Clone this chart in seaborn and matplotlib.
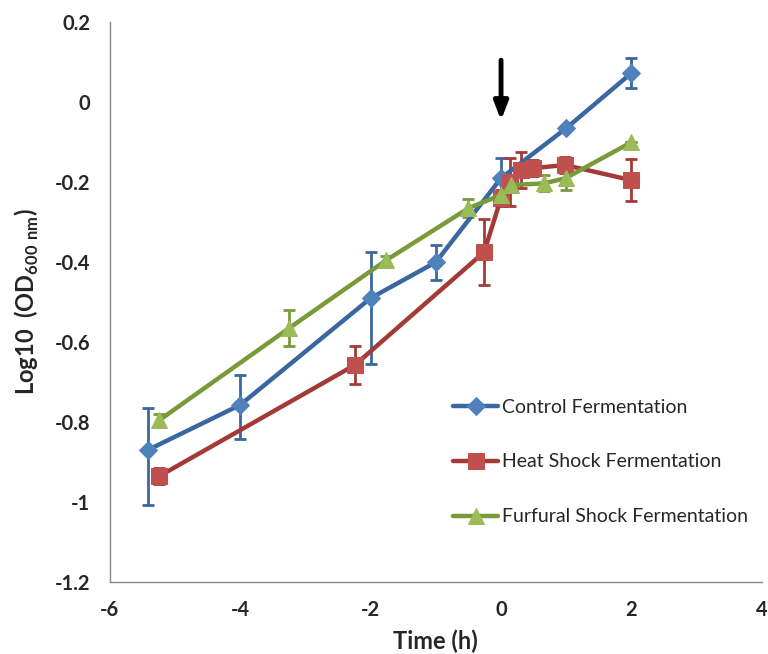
"""Growth curves of the three fermentations, log10 OD600 over time."""
import matplotlib

matplotlib.use("Agg")
import matplotlib.pyplot as plt
import pandas as pd
import seaborn as sns

# Control fermentation (error bars read as lower / upper)
ctrl_t = [-5.42, -4.0, -2.0, -1.0, 0.0, 1.0, 2.0]
ctrl_y = [-0.87, -0.757, -0.49, -0.40, -0.19, -0.065, 0.073]
ctrl_lo = [0.137, 0.085, 0.165, 0.045, 0.05, 0.0, 0.037]
ctrl_hi = [0.105, 0.075, 0.115, 0.043, 0.05, 0.0, 0.037]

# Heat shock fermentation
heat_t = [-5.24, -2.24, -0.26, 0.0, 0.14, 0.31, 0.49, 0.98, 2.0]
heat_y = [-0.935, -0.657, -0.375, -0.24, -0.20, -0.17, -0.165, -0.157, -0.195]
heat_err = [0.02, 0.048, 0.082, 0.02, 0.06, 0.045, 0.02, 0.02, 0.053]

# Furfural shock fermentation
furf_t = [-5.24, -3.25, -1.76, -0.5, 0.0, 0.16, 0.66, 0.99, 2.0]
furf_y = [-0.795, -0.565, -0.395, -0.265, -0.232, -0.207, -0.203, -0.19, -0.10]
furf_err = [0.015, 0.045, 0.01, 0.022, 0.01, 0.01, 0.02, 0.03, 0.0]

SERIES = [
    ("Control Fermentation", ctrl_t, ctrl_y, [ctrl_lo, ctrl_hi], "#3A67A0", "#4F81BD", "D", 9),
    ("Heat Shock Fermentation", heat_t, heat_y, heat_err, "#A33A36", "#C0504D", "s", 11),
    ("Furfural Shock Fermentation", furf_t, furf_y, furf_err, "#7A9A3A", "#9BBB59", "^", 11),
]

sns.set_theme(style="white")
plt.rcParams["font.family"] = ["Lato", "DejaVu Sans"]
plt.rcParams["mathtext.fontset"] = "custom"
plt.rcParams["mathtext.bf"] = "Lato:bold"
plt.rcParams["mathtext.rm"] = "Lato:bold"

fig = plt.figure(figsize=(7.68, 6.54), dpi=100)
ax = fig.add_axes([0.143, 0.110, 0.849, 0.856])

for label, t, y, err, line_c, mark_c, mk, ms in SERIES:
    df = pd.DataFrame({"t": t, "y": y})
    ax.errorbar(t, y, yerr=err, fmt="none", ecolor=line_c, elinewidth=2,
                capsize=4.5, capthick=2, zorder=2)
    sns.lineplot(data=df, x="t", y="y", ax=ax, color=line_c, lw=3.2,
                 marker=mk, markersize=ms, markerfacecolor=mark_c,
                 markeredgecolor=mark_c, label=label, zorder=3, sort=False)

# shock applied at t = 0
ax.annotate("", xy=(0, -0.052), xytext=(0, 0.112),
            arrowprops=dict(arrowstyle="-|>,head_width=0.35,head_length=0.9",
                            color="black", lw=3.5))

ax.set_xlim(-6, 4)
ax.set_ylim(-1.2, 0.2)
xt = [-6, -4, -2, 0, 2, 4]
yt = [0.2, 0, -0.2, -0.4, -0.6, -0.8, -1, -1.2]
ax.set_xticks(xt)
ax.set_xticklabels([f"{v:g}" for v in xt])
ax.set_yticks(yt)
ax.set_yticklabels([f"{v:g}" for v in yt])
for s in ("top", "right"):
    ax.spines[s].set_visible(False)
for s in ("left", "bottom"):
    ax.spines[s].set_color("#888888")
    ax.spines[s].set_linewidth(1)
ax.tick_params(axis="both", direction="out", length=5, width=1, color="#888888",
               labelsize=14.5, pad=9)
ax.tick_params(axis="x", pad=8)
for lab in ax.get_xticklabels() + ax.get_yticklabels():
    lab.set_fontweight("bold")

ax.set_xlabel("Time (h)", fontsize=17, fontweight="bold", labelpad=7)
ax.set_ylabel(r"Log10  (OD$_{\mathrm{600\ nm}}$)", fontsize=17,
              fontweight="bold", labelpad=10)

ax.legend(loc="lower left", bbox_to_anchor=(0.5, 0.07), frameon=False,
          fontsize=14, handlelength=2.3, labelspacing=1.95, handletextpad=0.2)

fig.savefig("out.png", dpi=100)
